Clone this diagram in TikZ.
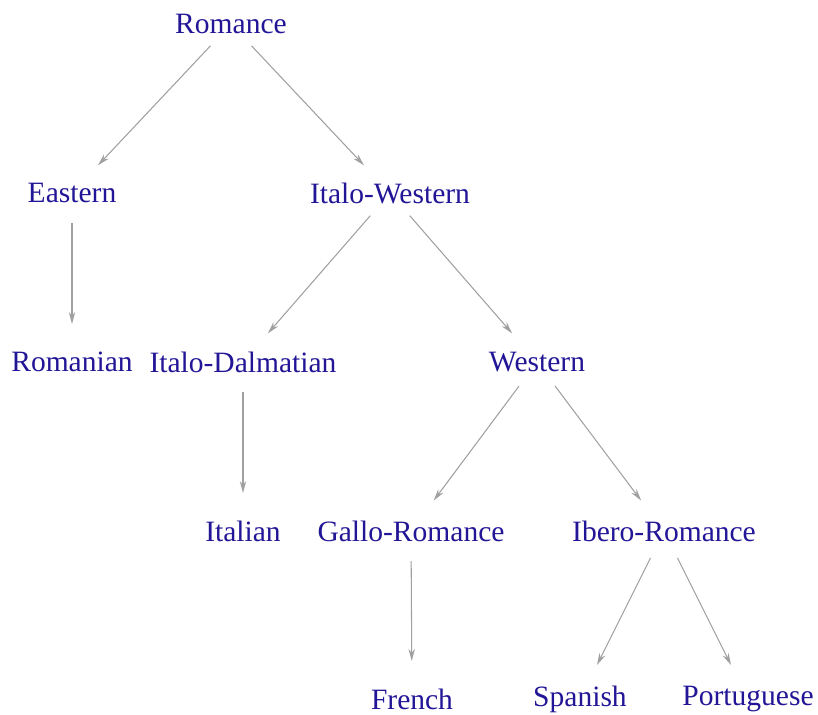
\documentclass[tikz,border=0pt]{standalone}
\usepackage{fontspec}
\setmainfont{Liberation Serif}
\usetikzlibrary{arrows.meta}
\definecolor{langblue}{RGB}{34,22,150}
\definecolor{edgegray}{RGB}{160,160,160}

\begin{document}
\begin{tikzpicture}[
    x=0.025cm, y=-0.025cm,
    lang/.style={font=\fontsize{21}{25}\selectfont, text=langblue, inner sep=0pt},
    arrow/.style={-{Stealth[length=3mm, width=1.6mm]}, draw=edgegray, line width=0.75pt,
                  shorten <=0.75cm, shorten >=0.95cm},
]
\useasboundingbox (0,0) rectangle (818,715);

% ====== Top levels ======
\node[lang] (romance) at (231,24) {Romance};
\node[lang] (eastern) at (72,193) {Eastern};
\node[lang] (italowest) at (390,193) {Italo-Western};

% ====== Middle ======
\node[lang] (romanian) at (72,362) {Romanian};
\node[lang] (italodalm) at (243,362) {Italo-Dalmatian};
\node[lang] (western) at (537,362) {Western};

\node[lang] (italian) at (243,531) {Italian};
\node[lang] (gallo) at (411,531) {Gallo-Romance};
\node[lang] (ibero) at (664,531) {Ibero-Romance};

% ====== Leaves ======
\node[lang] (french) at (412,699) {French};
\node[lang] (spanish) at (580,699) {Spanish};
\node[lang] (portuguese) at (748,699) {Portuguese};

% ====== Edges ======
\draw[arrow] (romance.center) -- (eastern.center);
\draw[arrow] (romance.center) -- (italowest.center);
\draw[arrow] (eastern.center) -- (romanian.center);
\draw[arrow] (italowest.center) -- (italodalm.center);
\draw[arrow] (italowest.center) -- (western.center);
\draw[arrow] (italodalm.center) -- (italian.center);
\draw[arrow] (western.center) -- (gallo.center);
\draw[arrow] (western.center) -- (ibero.center);
\draw[arrow] (gallo.center) -- (french.center);
\draw[arrow] (ibero.center) -- (spanish.center);
\draw[arrow] (ibero.center) -- (portuguese.center);

\end{tikzpicture}
\end{document}
